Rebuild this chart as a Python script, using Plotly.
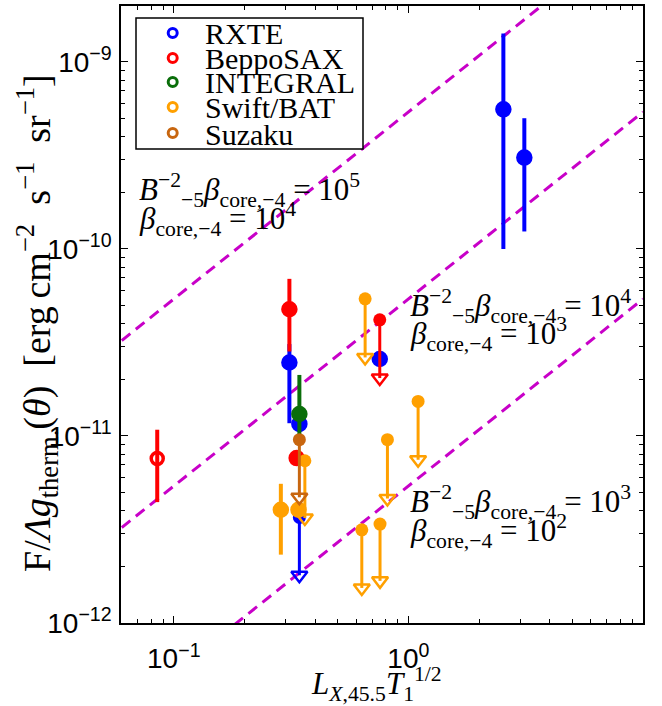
import plotly.graph_objects as go

# ---------------- data ----------------
instruments = ["RXTE", "BeppoSAX", "INTEGRAL", "Swift/BAT", "Suzaku"]
colors = ["#0000FF", "#FF0000", "#0A6E0A", "#FFA000", "#C8660F"]

# detections (x, y, lower end of bar, upper end of bar)
rxte_x = [2.54, 3.12, 0.311, 0.343, 0.755]
rxte_y = [5.58e-10, 3.08e-10, 2.47e-11, 1.16e-11, 2.58e-11]
rxte_lo = [1.0e-10, 1.24e-10, 1.17e-11, 1.05e-11, 2.58e-11]
rxte_hi = [1.42e-9, 5.0e-10, 3.1e-11, 1.3e-11, 2.58e-11]
rxte_open = [False, False, False, False, False]
# upper limits (x, value, arrow end)
rxte_ul_x = [0.343]
rxte_ul_y = [3.67e-12]
rxte_ul_end = [1.80e-12]

sax_x = [0.085, 0.311, 0.334]
sax_y = [7.58e-12, 4.76e-11, 7.62e-12]
sax_lo = [4.43e-12, 2.83e-11, 7.62e-12]
sax_hi = [1.08e-11, 6.92e-11, 7.62e-12]
sax_open = [True, False, False]
sax_ul_x = [0.755]
sax_ul_y = [4.18e-11]
sax_ul_end = [2.04e-11]

integral_x = [0.343]
integral_y = [1.31e-11]
integral_lo = [9.9e-12]
integral_hi = [2.12e-11]
integral_open = [False]
integral_ul_x = []
integral_ul_y = []
integral_ul_end = []

swift_x = [0.286, 0.340]
swift_y = [4.03e-12, 4.03e-12]
swift_lo = [2.32e-12, 4.03e-12]
swift_hi = [5.55e-12, 4.03e-12]
swift_open = [False, False]
swift_ul_x = [0.362, 0.654, 1.10, 0.814, 0.757, 0.633]
swift_ul_y = [7.37e-12, 5.41e-11, 1.53e-11, 9.55e-12, 3.38e-12, 3.15e-12]
swift_ul_end = [3.64e-12, 2.63e-11, 7.46e-12, 4.63e-12, 1.68e-12, 1.54e-12]

suzaku_x = []
suzaku_y = []
suzaku_lo = []
suzaku_hi = []
suzaku_open = []
suzaku_ul_x = [0.343]
suzaku_ul_y = [9.55e-12]
suzaku_ul_end = [4.70e-12]

# model lines y = k * x  (labelled B^-2 beta = 1e5, 1e4, 1e3)
line_coeffs = [5.4e-10, 5.4e-11, 5.4e-12]
line_x = [0.06, 10.0]
line_labels = [
    ("<i>B</i><sup>−2</sup><sub>−5</sub><i>β</i><sub>core,−4</sub> = 10<sup>5</sup>",
     "<i>β</i><sub>core,−4</sub> = 10<sup>4</sup>"),
    ("<i>B</i><sup>−2</sup><sub>−5</sub><i>β</i><sub>core,−4</sub> = 10<sup>4</sup>",
     "<i>β</i><sub>core,−4</sub> = 10<sup>3</sup>"),
    ("<i>B</i><sup>−2</sup><sub>−5</sub><i>β</i><sub>core,−4</sub> = 10<sup>3</sup>",
     "<i>β</i><sub>core,−4</sub> = 10<sup>2</sup>"),
]

x_tick_vals = [0.1, 1, 10]
x_tick_text = ["10<sup>−1</sup>", "10<sup>0</sup>", "10<sup>1</sup>"]
y_tick_vals = [1e-12, 1e-11, 1e-10, 1e-9]
y_tick_text = ["10<sup>−12</sup>", "10<sup>−11</sup>", "10<sup>−10</sup>", "10<sup>−9</sup>"]

x_title = "<i>L</i><sub><i>X</i>,45.5</sub><i>T</i><sub>1</sub><sup>1/2</sup>"
y_title = ("F/<i>Λg</i><sub>therm.</sub>(<i>θ</i>)\u2002[erg\u2009cm<sup>−2</sup>\u2002s<sup>−1</sup>\u2002"
           "sr<sup>−1</sup>]")

# ---------------- layout geometry ----------------
W, H = 662, 706
ML, MR, MT, MB = 121, 19, 6, 83
PW, PH = W - ML - MR, H - MT - MB


def px(xp):
    return (xp - ML) / PW


def py(yp):
    return (H - MB - yp) / PH


SERIF = "Liberation Serif, Times New Roman, serif"
SANS = "Liberation Sans, Arial, sans-serif"
MAG = "#C800C8"

fig = go.Figure()

# model dashed lines
for k in line_coeffs:
    fig.add_trace(go.Scatter(
        x=line_x, y=[k * v for v in line_x], mode="lines",
        line=dict(color=MAG, width=3, dash="11px,7px"),
        showlegend=False, hoverinfo="skip"))

series = [
    (rxte_x, rxte_y, rxte_lo, rxte_hi, rxte_open, rxte_ul_x, rxte_ul_y, rxte_ul_end),
    (sax_x, sax_y, sax_lo, sax_hi, sax_open, sax_ul_x, sax_ul_y, sax_ul_end),
    (integral_x, integral_y, integral_lo, integral_hi, integral_open,
     integral_ul_x, integral_ul_y, integral_ul_end),
    (swift_x, swift_y, swift_lo, swift_hi, swift_open, swift_ul_x, swift_ul_y, swift_ul_end),
    (suzaku_x, suzaku_y, suzaku_lo, suzaku_hi, suzaku_open,
     suzaku_ul_x, suzaku_ul_y, suzaku_ul_end),
]

for name, col, (dx, dy, dlo, dhi, dop, ux, uy, ue) in zip(instruments, colors, series):
    if dx:
        fig.add_trace(go.Scatter(
            x=dx, y=dy, mode="markers", name=name,
            marker=dict(symbol=["circle-open" if o else "circle" for o in dop],
                        size=[12 if o else 13 for o in dop], color=col, opacity=1,
                        line=dict(width=3.5, color=col)),
            error_y=dict(type="data", symmetric=False,
                         array=[h - v for h, v in zip(dhi, dy)],
                         arrayminus=[v - l for l, v in zip(dlo, dy)],
                         color=col, thickness=4, width=0),
            showlegend=False))
    if ux:
        lx, ly = [], []
        for a, b, c in zip(ux, uy, ue):
            lx += [a, a, None]
            ly += [b, c, None]
        fig.add_trace(go.Scatter(
            x=lx, y=ly, mode="lines", line=dict(color=col, width=3),
            showlegend=False, hoverinfo="skip"))
        fig.add_trace(go.Scatter(
            x=ux, y=ue, mode="markers",
            marker=dict(symbol="triangle-down-open", size=14, color=col,
                        line=dict(width=2.5, color=col)),
            showlegend=False))
        fig.add_trace(go.Scatter(
            x=ux, y=uy, mode="markers",
            marker=dict(symbol="circle", size=13, color=col, opacity=1),
            showlegend=False))

# minor tick positions
x_minor = [m * 10 ** d for d in range(-2, 1) for m in range(2, 10)]
y_minor = [m * 10.0 ** d for d in range(-12, -8) for m in range(2, 10)]

axis_common = dict(
    type="log", showline=True, linecolor="black", linewidth=1.5, mirror="ticks",
    ticks="inside", ticklen=7, tickwidth=1.2, tickcolor="black", showgrid=False,
    zeroline=False, tickmode="array", automargin=False,
    tickfont=dict(family=SANS, size=28, color="black"),
)

fig.update_xaxes(**axis_common, range=[-1.225, 1.0],
                 tickvals=x_tick_vals, ticktext=x_tick_text, ticklabelstandoff=10,
                 minor=dict(tickmode="array", tickvals=x_minor, ticks="inside",
                            ticklen=4, tickwidth=1, tickcolor="black", showgrid=False))
fig.update_yaxes(**axis_common, range=[-12.0, -8.701],
                 tickvals=y_tick_vals, ticktext=y_tick_text, ticklabelstandoff=2,
                 minor=dict(tickmode="array", tickvals=y_minor, ticks="inside",
                            ticklen=4, tickwidth=1, tickcolor="black", showgrid=False))

shapes = []
annotations = []

# legend box
shapes.append(dict(type="rect", xref="paper", yref="paper",
                   x0=px(136), x1=px(363), y0=py(149), y1=py(18),
                   line=dict(color="black", width=1.5), fillcolor="white", layer="above"))
legend_rows = [33, 58, 82, 107, 133]
for name, col, ry in zip(instruments, colors, legend_rows):
    r = 4.5
    shapes.append(dict(type="circle", xref="paper", yref="paper",
                       x0=px(172.7 - r), x1=px(172.7 + r), y0=py(ry + r), y1=py(ry - r),
                       line=dict(color=col, width=3), layer="above"))
    annotations.append(dict(text=name, xref="paper", yref="paper",
                            x=px(203), y=py(ry + 1), xanchor="left", yanchor="middle",
                            showarrow=False, font=dict(family=SERIF, size=30, color="black")))

# model labels
label_pos = [(137, 190, 219), (408, 306, 334), (408, 502, 531)]
for (l1, l2), (lx0, y1, y2) in zip(line_labels, label_pos):
    for t, yy in ((l1, y1), (l2, y2)):
        annotations.append(dict(text=t, xref="paper", yref="paper",
                                x=px(lx0), y=py(yy), xanchor="left", yanchor="middle",
                                showarrow=False, font=dict(family=SERIF, size=31, color="black")))

# axis titles
annotations.append(dict(text=x_title, xref="paper", yref="paper", x=px(376), y=py(684),
                        xanchor="center", yanchor="middle", showarrow=False,
                        font=dict(family=SERIF, size=31, color="black")))
annotations.append(dict(text=y_title, xref="paper", yref="paper", x=px(37), y=py(323),
                        xanchor="center", yanchor="middle", textangle=-90, showarrow=False,
                        font=dict(family=SERIF, size=38, color="black")))

fig.update_layout(
    width=W, height=H, margin=dict(l=ML, r=MR, t=MT, b=MB),
    paper_bgcolor="white", plot_bgcolor="white",
    showlegend=False, shapes=shapes, annotations=annotations,
)

fig.write_html("out.html", config={"displayModeBar": False},
               post_script="document.body.style.margin='0';document.body.style.padding='0';")
